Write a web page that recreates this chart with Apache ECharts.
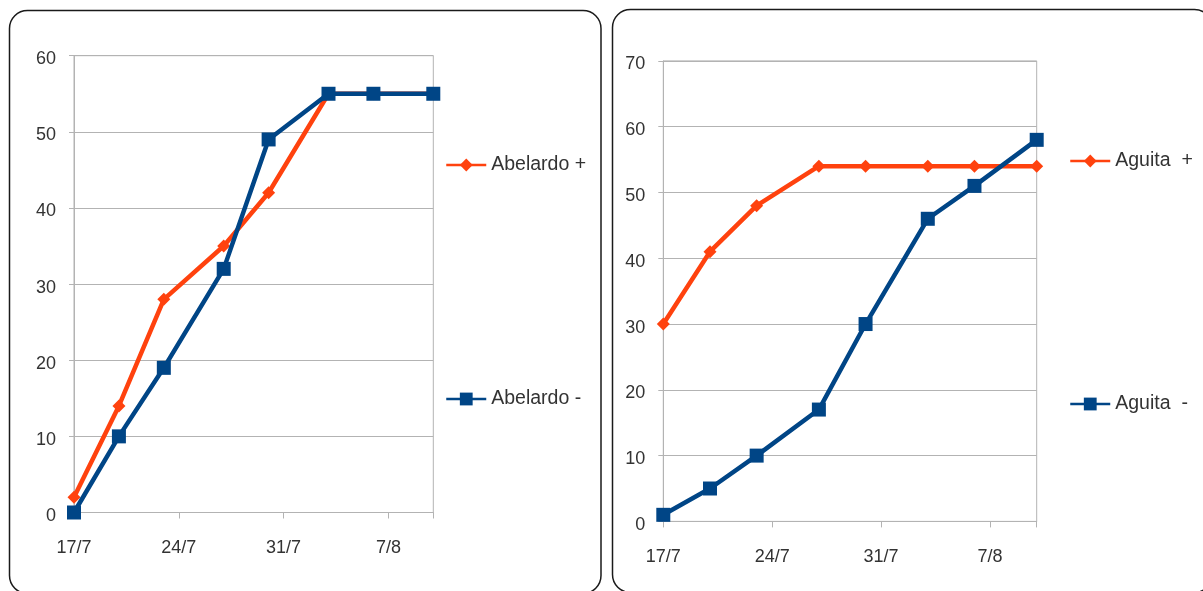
<!DOCTYPE html>
<html>
<head>
<meta charset="utf-8">
<script src="https://cdn.jsdelivr.net/npm/echarts@6/dist/echarts.min.js"></script>
<style>
  html, body { margin: 0; padding: 0; background: #ffffff; }
  #chart { width: 1203px; height: 591px; }
</style>
</head>
<body>
<div id="chart"></div>
<script>
// Observation dates (day/month) shared by both panels
const dates = ['17/7', '20/7', '23/7', '27/7', '30/7', '3/8', '6/8', '10/8'];

// Left panel
const abelardoPlus = [2, 14, 28, 35, 42, 55, 55, 55];
const abelardoMinus = [0, 10, 19, 32, 49, 55, 55, 55];

// Right panel
const aguitaPlus = [30, 41, 48, 54, 54, 54, 54, 54];
const aguitaMinus = [1, 5, 10, 17, 30, 46, 51, 58];

const seriesNames = ['Abelardo +', 'Abelardo -', 'Aguita  +', 'Aguita  -'];

const YEAR = 2009;
function toDay(s) {
  const [d, m] = s.split('/').map(Number);
  return Date.UTC(YEAR, m - 1, d);
}
const DAY = 86400000;
const start = toDay(dates[0]);
const dayOffsets = dates.map(s => Math.round((toDay(s) - start) / DAY));
const lastDay = dayOffsets[dayOffsets.length - 1];

function pairs(values) {
  return values.map((v, i) => [dayOffsets[i], v]);
}
// Weekly labels only; the closing tick at the axis end stays unlabeled
function dateLabel(offset) {
  if (offset % 7 !== 0) return '';
  const dt = new Date(start + offset * DAY);
  return dt.getUTCDate() + '/' + (dt.getUTCMonth() + 1);
}

const ORANGE = '#ff420e';
const BLUE = '#004586';
const GRID = '#b3b3b3';
const TEXT = '#333333';
const FONT = 'Liberation Sans, Arial, sans-serif';

function xAxis(gridIndex) {
  return {
    type: 'value', gridIndex: gridIndex,
    min: 0, max: lastDay, interval: 7,
    axisLine: { show: true, lineStyle: { color: GRID, width: 1 } },
    axisTick: { show: true, length: 6, lineStyle: { color: GRID } },
    splitLine: { show: false },
    axisLabel: { formatter: dateLabel, color: TEXT, fontSize: 18, fontFamily: FONT, margin: 27 }
  };
}
function yAxis(gridIndex, max) {
  return {
    type: 'value', gridIndex: gridIndex,
    min: 0, max: max, interval: 10,
    axisLine: { show: true, lineStyle: { color: GRID, width: 1 } },
    axisTick: { show: true, length: 5, lineStyle: { color: GRID } },
    splitLine: { show: true, lineStyle: { color: GRID, width: 1 } },
    // labels sit a few pixels below their gridline
    axisLabel: { color: TEXT, fontSize: 18, fontFamily: FONT, margin: 18,
                 verticalAlign: 'top', lineHeight: 7 }
  };
}
function lineSeries(name, values, idx, color, symbol, size, z) {
  return {
    name: name, type: 'line',
    xAxisIndex: idx, yAxisIndex: idx,
    data: pairs(values),
    symbol: symbol, symbolSize: size,
    showAllSymbol: true,
    z: z,
    lineStyle: { color: color, width: 4.5 },
    itemStyle: { color: color },
    emphasis: { disabled: true },
    animation: false
  };
}
function legend(name, left, top) {
  return {
    data: [name], left: left, top: top,
    padding: 0,
    itemWidth: 40, itemHeight: 16, itemGap: 0,
    lineStyle: { width: 2.5 },
    textStyle: { color: TEXT, fontSize: 19.5, fontFamily: FONT },
    selectedMode: false
  };
}

const chart = echarts.init(document.getElementById('chart'), null, { renderer: 'canvas' });
chart.setOption({
  backgroundColor: '#ffffff',
  animation: false,
  graphic: [
    { type: 'rect', shape: { x: 9.5, y: 10.5, width: 591.5, height: 583, r: 18 },
      style: { fill: null, stroke: '#1a1a1a', lineWidth: 1.5 }, silent: true },
    { type: 'rect', shape: { x: 612.5, y: 9.5, width: 600, height: 583, r: 18 },
      style: { fill: null, stroke: '#1a1a1a', lineWidth: 1.5 }, silent: true }
  ],
  grid: [
    { left: 74, top: 55.7, width: 359.3, height: 456.8, show: true, borderColor: GRID, borderWidth: 1 },
    { left: 663.3, top: 60.9, width: 373.4, height: 460.5, show: true, borderColor: GRID, borderWidth: 1 }
  ],
  xAxis: [xAxis(0), xAxis(1)],
  yAxis: [yAxis(0, 60), yAxis(1, 70)],
  legend: [
    legend(seriesNames[0], 445, 155),
    legend(seriesNames[1], 445, 389),
    legend(seriesNames[2], 1069, 151),
    legend(seriesNames[3], 1069, 394)
  ],
  series: [
    lineSeries(seriesNames[0], abelardoPlus, 0, ORANGE, 'diamond', 13, 2),
    lineSeries(seriesNames[1], abelardoMinus, 0, BLUE, 'rect', 14, 3),
    lineSeries(seriesNames[2], aguitaPlus, 1, ORANGE, 'diamond', 13, 2),
    lineSeries(seriesNames[3], aguitaMinus, 1, BLUE, 'rect', 14, 3)
  ]
});
</script>
</body>
</html>
